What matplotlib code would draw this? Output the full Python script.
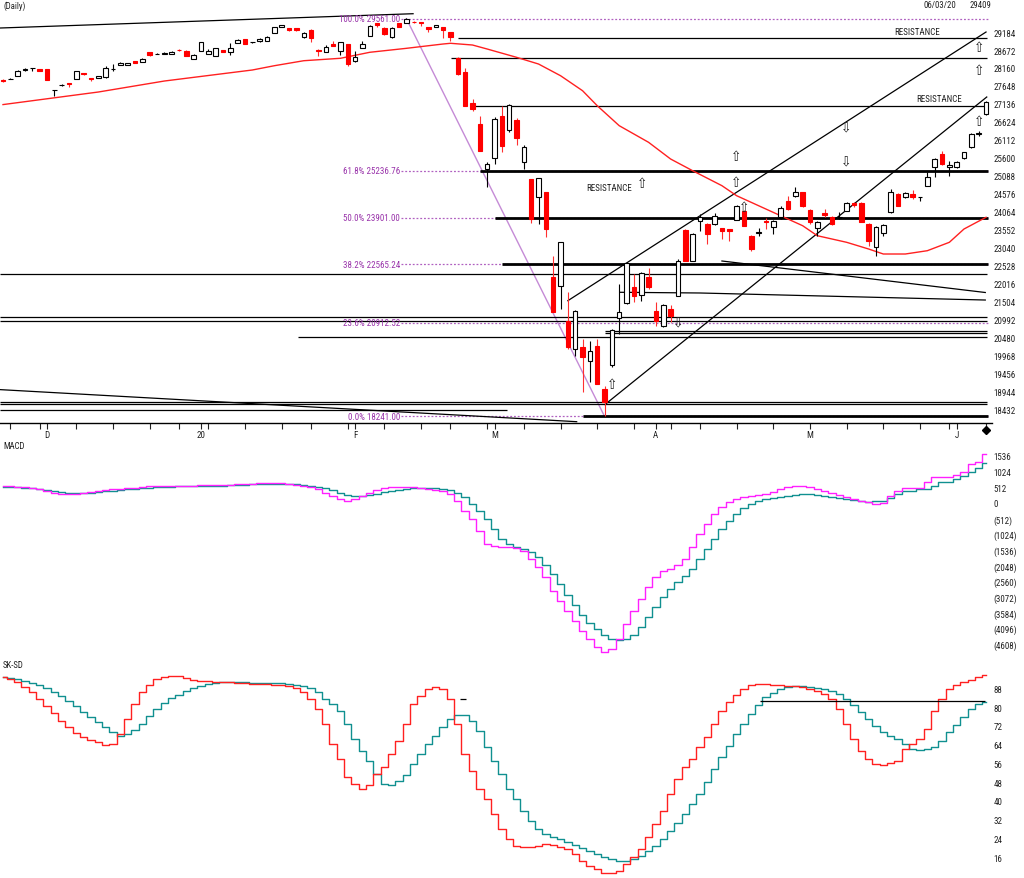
import matplotlib
matplotlib.use("Agg")
import matplotlib.pyplot as plt
from matplotlib.transforms import blended_transform_factory as blend
import numpy as np

plt.rcParams['font.family'] = ['Liberation Sans Narrow', 'Roboto Condensed',
                               'DejaVu Sans Condensed', 'Open Sans Condensed',
                               'DejaVu Sans']
plt.rcParams['font.stretch'] = 'condensed'

# ---------------- data ----------------
opens = [27820,27848,27933,28102,28160,28117,28117,27533,27676,27733,
         27848,28017,27861,27875,27903,28131,28245,28259,28345,28331,
         28615,28558,28572,28558,28686,28644,28416,28644,28558,28501,
         28658,28615,28871,28971,28886,28928,28928,29156,29318,29290,
         29290,29034,29250,28672,28607,28857,28652,28843,28350,28720,
         29079,29427,29298,29034,29427,29441,29478,29461,29318,29335,
         29335,29176,28436,28046,27155,26565,25284,25589,26802,26403,
         26679,25492,25000,24478,24621,22201,21962,20965,20160,20208,
         19826,20253,19021,19704,21034,21460,21916,21697,22218,21233,
         20823,21298,21677,23556,22673,23804,23718,23718,23596,23562,
         23841,24088,23385,23448,23804,23624,23909,24382,24507,24621,
         24125,23596,24031,23909,23903,24097,24316,24316,23718,23055,
         23453,24051,24572,24478,24572,24478,24809,25332,25711,25332,
         25332,25589,25902,26281,26850]
highs = [27834,27862,28102,28160,28165,28117,28131,27539,27718,27733,
         28074,28017,27875,27932,28217,28273,28331,28302,28345,28444,
         28615,28587,28601,28644,28700,28658,28544,28914,28700,28729,
         28658,28871,28971,28985,28914,29014,29071,29327,29398,29298,
         29298,29184,29270,28700,28814,28937,28900,28843,28635,28920,
         29384,29441,29313,29318,29432,29569,29489,29461,29318,29398,
         29341,29184,28473,28151,27277,26785,25475,26765,27086,27135,
         26736,25976,25000,25028,24629,22816,23206,21774,21270,20444,
         20396,20444,19115,20729,22010,22636,22295,22352,22457,21489,
         21441,21421,22722,23576,23462,24003,23747,24023,23604,23576,
         24259,24117,23405,23596,23880,23832,24222,24524,24763,24629,
         24145,23804,24145,23946,24051,24344,24344,24344,23747,23661,
         23718,24715,24601,24629,24686,24487,25190,25597,25805,25520,
         25512,25768,26309,26366,27220]
lows = [27763,27834,27919,28088,28088,28074,27804,27362,27647,27619,
        27848,27960,27790,27861,27875,28074,28231,28245,28302,28331,
        28515,28544,28558,28558,28644,28487,28402,28644,28544,28501,
        28615,28530,28871,28843,28871,28914,28928,29156,29313,29222,
        29213,29014,28891,28510,28601,28772,28530,28217,28330,28715,
        29071,29327,29113,29014,29313,29427,29427,29364,29176,29327,
        29014,28937,27960,27078,26944,25797,24763,25427,25760,26329,
        25967,25284,23747,23718,23340,21205,21298,20160,19969,18927,
        19211,19163,18260,19647,20587,21441,21489,21535,21868,20806,
        20786,20919,21668,22665,22665,23528,23149,23690,23291,23243,
        23832,23661,22958,23385,23576,23434,23861,24117,24487,24202,
        23718,23385,23909,23690,23861,24088,24194,23775,23100,22816,
        23385,24031,24231,24459,24430,24381,24800,25048,25398,25076,
        25313,25569,25882,26224,26822]
closes = [27791,27853,28074,28145,28165,28088,27818,27539,27684,27704,
          28074,27975,27833,27918,28160,28145,28288,28288,28316,28430,
          28530,28572,28587,28629,28658,28501,28530,28900,28644,28729,
          28629,28729,28957,28843,28900,28999,29056,29318,29392,29233,
          29233,29170,29005,28644,28766,28777,28891,28273,28464,28851,
          29347,29384,29128,29298,29318,29555,29455,29441,29284,29392,
          29250,29051,27989,27086,26992,25805,25427,26708,25947,27106,
          26158,25902,23861,25019,23576,21205,23197,20208,21233,19923,
          20094,19163,18642,20709,21205,22608,21660,22315,21916,20948,
          21421,21090,22673,22673,23434,23918,23434,23938,23533,23519,
          24239,23670,23006,23491,23775,23795,24165,24145,24638,24239,
          23767,23767,23974,23718,23918,24316,24259,23784,23243,23624,
          23690,24621,24239,24592,24487,24487,25048,25569,25427,25412,
          25492,25760,26281,26323,27183]

# moving average (red) read at bar indices
ma_idx = [0,13,22,34,37,41,46,50,55,60,61,64,66,70,73,76,79,81,84,88,91,94,
          98,100,103,106,109,111,115,118,120,123,126,129,131,134]
ma_val = [27118,27476,27789,28103,28225,28367,28436,28607,28720,28843,28863,
          28814,28700,28464,28273,27940,27513,27086,26517,26044,25569,25236,
          24809,24524,24239,23954,23670,23385,23197,23006,22864,22864,22958,
          23197,23576,23909]

# Fibonacci retracement levels
fib_pct = [100.0, 61.8, 50.0, 38.2, 23.6, 0.0]
fib_val = [29561.00, 25236.76, 23901.00, 22565.24, 20912.52, 18241.00]
fib_swing_idx = [55, 82]
fib_swing_val = [29561, 18241]
# heavy black lines drawn on fib levels: (level, start bar)
fib_bold_val = [25236.76, 23901.00, 22565.24, 18262.0]
fib_bold_start = [65.0, 67.07, 68.02, 79.06]

# horizontal support / resistance lines: level, start bar, end bar
hl_val = [29022, 28436, 27086, 22295, 21062, 20965, 20686, 20629, 20493,
          18659, 18585, 18409]
hl_start = [62.0, 61.07, 64.07, -0.41, -0.41, -0.41, 82.06, 82.06, 40.2,
            -0.41, -0.41, -0.41]
hl_end = [134.2, 134.2, 134.2, 134.2, 134.2, 134.2, 134.2, 134.2, 134.2,
          134.2, 134.2, 68.7]

# trend lines: lists of (bar, value) anchors
trend_lines = [
    [(-0.41, 29298), (55.9, 29705)],
    [(-0.41, 19003), (78.2, 18090)],
    [(82.06, 18579), (134.1, 27334)],
    [(77.0, 21535), (134.0, 29184)],
    [(98.0, 22665), (133.9, 21768)],
    [(84.1, 21774), (95.0, 21754), (133.9, 21554)],
]

# arrow signals
arrow_idx = [83, 87.06, 100, 100, 101, 133, 133, 133, 91.97, 115, 115]
arrow_val = [19163, 24885, 25663, 24905, 24202, 28749, 28103, 26659,
             20957, 26500, 25520]
arrow_dir = ['up', 'up', 'up', 'up', 'up', 'up', 'up', 'up',
             'down', 'down', 'down']

# "RESISTANCE" notes: right end bar and level
resist_idx = [85.7, 127.7, 130.7]
resist_val = [24763, 29193, 27277]

price_ticks = [29184, 28672, 28160, 27648, 27136, 26624, 26112, 25600, 25088,
               24576, 24064, 23552, 23040, 22528, 22016, 21504, 20992, 20480,
               19968, 19456, 18944, 18432]

month_idx = [6, 27, 48, 67, 89, 110, 130]
month_lbl = ['D', '20', 'F', 'M', 'A', 'M', 'J']
friday_idx = [1, 5, 10, 15, 20, 24, 28, 33, 38, 42, 47, 52, 57, 61, 66, 71,
              76, 81, 86, 91, 95, 100, 105, 110, 115, 120, 125, 129, 134]

macd = [554,554,522,522,489,456,
        391,326,293,293,293,326,359,391,
        424,456,456,489,489,522,554,554,554,554,554,554,554,587,
        587,587,587,587,619,619,619,652,652,652,652,619,587,
        554,522,456,326,228,130,65,130,
        228,326,424,489,522,522,522,
        522,489,456,424,391,293,
        65,-261,-522,-913,-1337,-1402,
        -1434,-1434,-1467,-1565,-1826,-2086,-2412,
        -2869,-3195,-3521,-3847,-4173,-4434,-4694,-4857,
        -4760,-4434,-3945,-3521,-3130,-2738,-2412,-2217,
        -2152,-2021,-1826,-1434,-1011,-685,-359,-130,
        33,130,196,228,261,293,359,456,522,554,554,522,
        456,391,326,261,196,130,65,33,-33,0,
        228,401,479,479,479,675,838,838,838,913,1001,1271,1346,1597]
signal = [522,522,522,489,489,456,424,391,359,326,326,326,326,359,
          391,391,424,456,456,489,489,522,522,522,554,554,554,554,
          554,554,554,587,587,587,619,619,619,619,619,619,619,
          587,554,522,489,424,326,261,228,
          228,261,293,359,391,424,456,
          489,489,489,489,456,424,
          326,196,-33,-261,-522,-848,
          -1174,-1337,-1434,-1500,-1597,-1760,-2021,
          -2315,-2641,-2999,-3325,-3651,-3912,-4108,-4303,
          -4434,-4466,-4434,-4303,-4042,-3716,-3390,-3064,
          -2804,-2575,-2380,-2152,-1826,-1500,-1174,-848,
          -587,-359,-163,-33,65,130,163,196,228,261,293,293,
          261,228,196,163,130,98,65,33,65,65,
          163,293,391,391,456,456,554,694,694,782,890,1011,1141,1304]
macd_ticks = [1536, 1024, 512, 0, -512, -1024, -1536, -2048, -2560, -3072,
              -3584, -4096, -4608]

sk = [92.8,92.0,90.7,88.6,86.4,83.4,80.4,77.4,74.0,71.5,
      68.9,67.2,65.9,65.1,63.8,64.2,68.5,74.9,81.3,86.4,
      89.4,92.0,92.8,93.2,93.2,92.4,91.5,91.1,91.1,90.7,
      90.7,90.7,90.3,90.3,89.8,89.8,89.8,89.4,89.4,89.0,
      88.1,86.4,83.4,79.2,72.8,64.2,57.8,50.1,47.1,45.0,
      46.7,51.4,54.4,59.9,65.5,72.8,81.3,84.7,87.7,88.6,
      87.7,83.4,72.8,59.9,52.7,45.0,40.7,34.3,27.9,23.6,
      20.7,20.2,20.2,20.7,21.5,21.1,20.2,19.4,17.2,14.3,
      12.1,10.8,9.1,9.1,10.0,13.0,16.0,19.4,24.5,30.0,
      35.6,42.9,49.3,54.4,57.8,62.9,67.2,72.8,78.3,82.2,
      85.1,87.7,89.4,89.8,89.8,89.4,89.4,89.0,89.0,88.6,
      87.7,86.8,85.6,83.4,79.2,72.8,66.3,61.2,57.8,55.7,
      55.2,56.1,56.9,62.1,64.2,66.3,70.6,78.3,83.4,87.7,
      89.4,90.7,91.5,92.8,93.7]
sd = [92.8,92.4,92.0,91.1,90.3,89.4,88.1,86.4,84.7,82.6,
      80.4,77.9,75.7,73.6,71.5,69.3,67.6,68.5,70.2,72.8,
      76.2,79.2,81.7,83.9,85.1,86.8,88.1,89.0,89.8,90.3,
      90.7,90.7,90.7,90.7,90.3,90.3,90.3,90.3,90.3,89.8,
      89.4,89.0,88.1,86.4,83.4,81.3,78.3,72.8,66.3,61.2,
      56.9,51.4,47.1,46.7,48.4,51.0,55.7,59.9,64.2,67.6,
      71.5,74.9,76.6,76.6,74.0,69.8,62.9,56.9,51.4,45.0,
      40.7,35.6,31.3,27.9,25.8,24.5,23.6,22.4,21.1,19.8,
      18.5,17.2,15.9,15.1,14.2,14.2,15.1,16.4,18.5,20.7,
      23.6,27.1,30.5,34.3,38.6,42.9,48.0,53.5,58.7,63.4,
      68.5,72.8,77.0,80.9,84.3,86.0,87.7,88.6,89.0,89.0,
      88.6,88.1,87.7,86.8,85.6,83.4,80.9,77.9,74.9,71.9,
      69.3,67.6,66.3,64.2,62.1,61.6,62.1,62.9,65.5,69.3,
      72.4,75.7,79.2,81.3,82.1]
stoch_ticks = [88, 80, 72, 64, 56, 48, 40, 32, 24, 16]
stoch_ref_val = [82.4, 83.4]
stoch_ref_span = [(103.2, 133.9), (62.3, 63.1)]

# ---------------- layout ----------------
W, H = 1024, 879
fig = plt.figure(figsize=(W / 100, H / 100), dpi=100)
fig.patch.set_facecolor('white')

X0, DX, AXR = 3.0, 7.336, 992
xlim = (-X0 / DX, (AXR - X0) / DX)
FS = 6.5
TXT = '#222222'

def add_ax(top_px, bot_px):
    return fig.add_axes([0, 1 - bot_px / H, AXR / W, (bot_px - top_px) / H])

ax = add_ax(0, 424)
axm = add_ax(440, 660)
axs = add_ax(660, 879)

for a in (ax, axm, axs):
    a.set_xlim(*xlim)
    a.set_facecolor('none')
    for s in a.spines.values():
        s.set_visible(False)
    a.yaxis.tick_right()
    a.tick_params(axis='y', length=0, pad=1, labelsize=FS, colors=TXT)

# ---- price panel ----
ax.set_ylim(18052.7, 30124)
ax.spines['bottom'].set_visible(True)
ax.spines['bottom'].set_linewidth(1.0)
ax.set_yticks(price_ticks)
ax.set_yticklabels([str(v) for v in price_ticks])
ax.set_xticks(month_idx)
ax.set_xticklabels(month_lbl)
ax.set_xticks(friday_idx, minor=True)
ax.tick_params(axis='x', which='both', direction='out', length=4, width=0.8,
               labelsize=FS, pad=1, colors=TXT)

idx = np.arange(len(opens))
o = np.array(opens, float); c = np.array(closes, float)
h = np.array(highs, float); l = np.array(lows, float)
up = c >= o

xe = xlim[1] - 0.6
# fib
purple = '#9933aa'
for p, v in zip(fib_pct, fib_val):
    ax.text(54.1, v, f"{p:.1f}% {v:.2f}", ha='right', va='center',
            fontsize=FS, color=purple)
    ax.hlines(v, 54.3, xe, colors='#b060c0', linestyles=(0, (1.5, 1.5)),
              lw=0.9, zorder=2)
ax.plot(fib_swing_idx, fib_swing_val, color='#c58bd6', lw=1.0, zorder=2)
for v, s in zip(fib_bold_val, fib_bold_start):
    ax.hlines(v, s, xe, colors='black', lw=2.0, zorder=2)

for v, s, e in zip(hl_val, hl_start, hl_end):
    ax.hlines(v, s, min(e, xe), colors='black', lw=0.9, zorder=2)
for tl in trend_lines:
    xs, ys = zip(*tl)
    ax.plot(xs, ys, color='black', lw=0.9, zorder=2)

ax.plot(ma_idx, ma_val, color='#ff2020', lw=1.0, zorder=2.5)

# candles
ax.vlines(idx[up], l[up], h[up], colors='black', lw=0.8, zorder=3)
ax.vlines(idx[~up], l[~up], h[~up], colors='#ff3030', lw=0.8, zorder=3)
ax.bar(idx[up], c[up] - o[up], bottom=o[up], width=0.62, facecolor='white',
       edgecolor='black', lw=0.8, zorder=4)
ax.bar(idx[~up], o[~up] - c[~up], bottom=c[~up], width=0.62, facecolor='red',
       edgecolor='red', lw=0.8, zorder=4)

for xi, yv, d in zip(arrow_idx, arrow_val, arrow_dir):
    ax.text(xi, yv, '\u21e7' if d == 'up' else '\u21e9', ha='center',
            va='center', fontsize=10, family=['DejaVu Sans'], color=TXT,
            zorder=5)
for xi, yv in zip(resist_idx, resist_val):
    ax.text(xi, yv, 'RESISTANCE', ha='right', va='center', fontsize=FS,
            color=TXT, zorder=5)

ax.plot([idx[-1]], [-0.016], marker='D', ms=4, color='black', clip_on=False,
        transform=blend(ax.transData, ax.transAxes))

# ---- MACD panel ----
axm.set_ylim(-5086, 2086)
axm.set_xticks([])
axm.set_yticks(macd_ticks)
axm.set_yticklabels([str(v) if v >= 0 else f"({-v})" for v in macd_ticks])
axm.plot(idx, signal, color='#109090', lw=1.0, drawstyle='steps-mid')
axm.plot(idx, macd, color='#ff20ff', lw=1.0, drawstyle='steps-mid')

# ---- stochastic panel ----
axs.set_ylim(7.06, 100.5)
axs.set_xticks([])
axs.set_yticks(stoch_ticks)
axs.set_yticklabels([str(v) for v in stoch_ticks])
axs.plot(idx, sd, color='#109090', lw=1.0, drawstyle='steps-mid')
axs.plot(idx, sk, color='#ff2020', lw=1.0, drawstyle='steps-mid')
for v, (a0, a1) in zip(stoch_ref_val, stoch_ref_span):
    axs.hlines(v, a0, a1, colors='black', lw=0.9)

# ---- header / panel labels ----
fig.text(3 / W, 1 - 6 / H, '(Daily)', fontsize=6.3, va='center', ha='left',
         color=TXT)
fig.text(940 / W, 1 - 6 / H, '06/03/20', fontsize=6.3, va='center',
         ha='center', color=TXT)
fig.text(981 / W, 1 - 6 / H, '29409', fontsize=6.3, va='center', ha='center',
         color=TXT)
fig.text(3 / W, 1 - 447 / H, 'MACD', fontsize=6.3, va='center', ha='left',
         color=TXT)
fig.text(3 / W, 1 - 666 / H, 'SK-SD', fontsize=6.3, va='center', ha='left',
         color=TXT)

fig.savefig('out.png', dpi=100, facecolor='white')
